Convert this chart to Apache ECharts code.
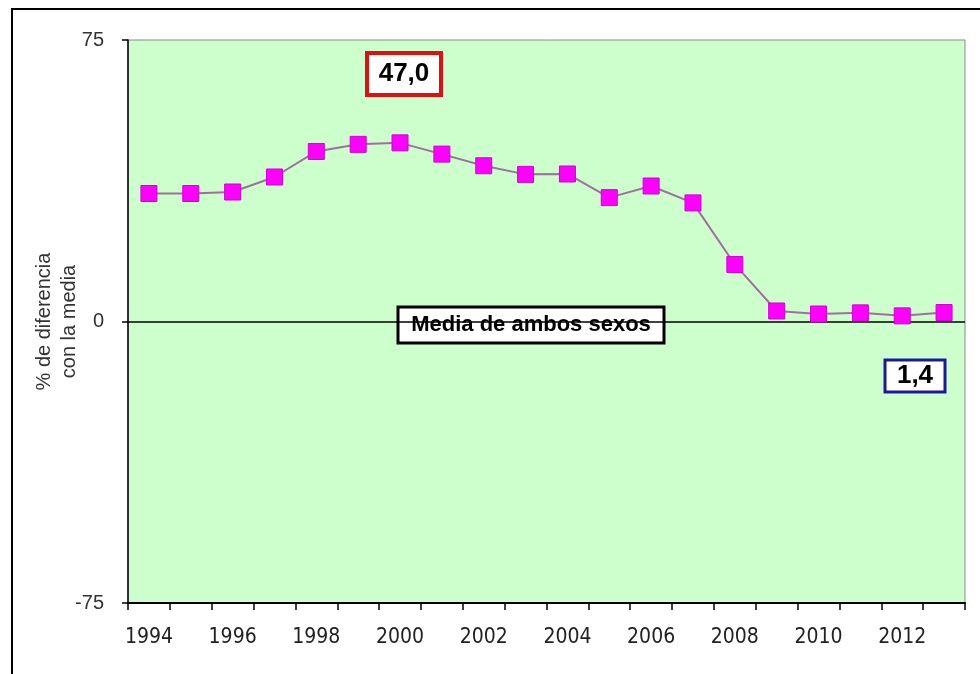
<!DOCTYPE html>
<html>
<head>
<meta charset="utf-8">
<script src="https://cdn.jsdelivr.net/npm/echarts@6/dist/echarts.min.js"></script>
<style>
  html, body { margin: 0; padding: 0; background: #fff; }
  #chart { width: 980px; height: 674px; }
</style>
</head>
<body>
<div id="chart"></div>
<script>
const years = ['1994', '1995', '1996', '1997', '1998', '1999', '2000', '2001', '2002', '2003',
  '2004', '2005', '2006', '2007', '2008', '2009', '2010', '2011', '2012', '2013']
const diffPct = [34.1, 34.1, 34.5, 38.5, 45.3, 47.2, 47.6, 44.6, 41.5, 39.2,
  39.3, 33.0, 36.1, 31.6, 15.2, 2.8, 2.0, 2.3, 1.5, 2.4]
const yTicks = [-75, 0, 75]
const maxNote = '47,0'
const lastNote = '1,4'
const meanNote = 'Media de ambos sexos'

const chart = echarts.init(document.getElementById('chart'))

// boxed annotation: rect + centred bold text
const box = (x, y, w, h, border, bw, text, size) => ({
  type: 'group',
  x: x,
  y: y,
  children: [
    { type: 'rect', shape: { x: 0, y: 0, width: w, height: h },
      style: { fill: '#fff', stroke: border, lineWidth: bw } },
    { type: 'text', x: w / 2, y: h / 2,
      style: { text: text, fill: '#000', font: 'bold ' + size + 'px "Liberation Sans", Arial',
        align: 'center', verticalAlign: 'middle' } }
  ]
})

const option = {
  backgroundColor: '#fff',
  animation: false,
  grid: { left: 128, top: 40, right: 15, bottom: 71, show: true,
    backgroundColor: '#ccffcc', borderColor: '#8a8a8a', borderWidth: 1 },
  xAxis: {
    type: 'category',
    data: years,
    boundaryGap: true,
    axisLine: { onZero: false, lineStyle: { color: '#000', width: 2 } },
    axisTick: { show: true, length: 7, alignWithLabel: false, interval: 0,
      lineStyle: { color: '#000', width: 1.5 } },
    axisLabel: { interval: 1, margin: 24, color: '#222', fontSize: 21,
      fontFamily: '"DejaVu Sans Condensed", "Liberation Sans Narrow", sans-serif' },
    splitLine: { show: false }
  },
  yAxis: {
    type: 'value',
    min: yTicks[0],
    max: yTicks[2],
    interval: 75,
    name: '% de diferencia\ncon la media',
    nameLocation: 'middle',
    nameRotate: 90,
    nameGap: 46,
    nameMoveOverlap: false,
    nameTextStyle: { color: '#333', fontSize: 20, lineHeight: 25,
      fontFamily: '"Liberation Sans", Arial, sans-serif' },
    axisLine: { show: true, lineStyle: { color: '#000', width: 1.5 } },
    axisTick: { show: true, length: 6, lineStyle: { color: '#000', width: 1.5 } },
    axisLabel: { color: '#333', fontSize: 20, margin: 24,
      fontFamily: '"Liberation Sans", Arial, sans-serif' },
    splitLine: { show: false }
  },
  series: [{
    type: 'line',
    data: diffPct,
    symbol: 'rect',
    symbolSize: 16,
    lineStyle: { color: '#a0709c', width: 2 },
    itemStyle: { color: '#ff00ff', borderColor: '#d000d0', borderWidth: 1 },
    z: 5,
    markLine: {
      silent: true,
      symbol: 'none',
      label: { show: false },
      lineStyle: { color: '#000', width: 1.5, type: 'solid' },
      data: [{ yAxis: 0 }],
      z: 3
    }
  }],
  graphic: [
    { type: 'rect', shape: { x: 12, y: 9, width: 1000, height: 700 },
      style: { fill: 'none', stroke: '#000', lineWidth: 2 }, z: 100 },
    box(367, 53, 74, 42, '#e01010', 4, maxNote, 26),
    box(398, 307, 266, 36, '#000', 3, meanNote, 22),
    box(885, 360, 60, 32, '#1a1a99', 3, lastNote, 26)
  ]
}

chart.setOption(option)
</script>
</body>
</html>
